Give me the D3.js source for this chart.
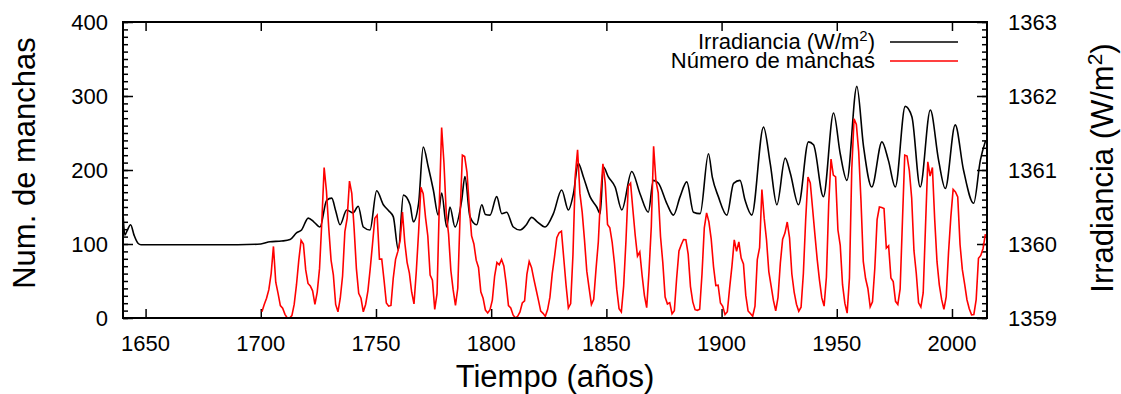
<!DOCTYPE html>
<html lang="es">
<meta charset="utf-8">
<script src="https://cdn.jsdelivr.net/npm/d3@7/dist/d3.min.js"></script>
<style>
  body { margin: 0; background: #fff; }
  svg text { font-family: "Liberation Sans", Arial, sans-serif; fill: #000; }
</style>
<body>
<script>
// sunspot number (yearly mean), 1700 - 2014
var spotStart = 1700;
var spots = [
  8.3,18.3,26.7,38.3,60.0,96.7,48.3,33.3,16.7,13.3,
  5.0,0.0,0.0,3.3,18.3,45.0,78.3,105.0,100.0,65.0,
  46.7,43.3,36.7,18.3,35.0,66.7,130.0,203.3,171.7,121.7,
  78.3,58.3,18.3,8.3,26.7,56.7,116.7,135.0,185.0,168.3,
  121.7,66.7,33.3,26.7,8.3,18.3,36.7,66.7,100.0,134.8,
  139.0,79.5,79.7,51.2,20.3,16.0,17.0,54.0,79.3,90.0,
  104.8,143.2,102.0,75.2,60.7,34.8,19.0,63.0,116.3,176.8,
  168.0,136.0,110.8,58.0,51.0,11.7,33.0,154.2,257.3,209.8,
  141.3,113.5,64.2,38.0,17.0,40.2,138.2,220.0,218.2,196.8,
  149.8,111.0,100.0,78.2,68.3,35.5,26.7,10.7,6.8,11.3,
  24.2,56.7,75.0,71.8,79.2,70.3,46.8,16.8,13.5,4.2,
  0.0,2.3,8.3,20.3,23.2,59.0,76.3,68.3,52.9,38.5,
  24.2,9.2,6.3,2.2,11.4,28.2,59.9,83.0,108.5,115.2,
  117.4,80.8,44.3,13.4,19.5,85.8,192.7,227.3,168.7,143.0,
  105.5,63.3,40.3,18.1,25.1,65.8,102.7,166.3,208.3,182.5,
  126.3,122.0,102.7,74.1,39.0,12.7,8.2,43.4,104.4,178.3,
  182.2,146.6,112.1,83.5,89.2,57.8,30.7,13.9,62.8,123.6,
  232.0,185.3,169.2,110.1,74.5,28.3,18.9,20.7,5.7,10.0,
  53.7,90.5,99.0,106.1,105.8,86.3,42.4,21.8,11.2,10.4,
  11.8,59.5,121.7,142.0,130.0,106.6,69.4,43.8,44.4,20.2,
  15.7,4.6,8.5,40.8,70.1,105.5,90.1,102.8,80.9,73.2,
  30.9,9.5,6.0,2.4,16.1,79.0,95.0,173.6,134.6,105.7,
  62.7,43.5,23.7,9.7,27.9,74.0,106.5,114.7,129.7,108.2,
  59.4,35.1,18.6,9.2,14.6,60.2,132.8,190.6,182.6,148.0,
  113.0,79.2,50.8,27.1,16.1,55.3,154.3,214.7,193.0,190.7,
  118.9,98.3,45.0,20.1,6.6,54.2,200.7,269.3,261.7,225.1,
  159.0,76.4,53.4,39.9,15.0,22.0,66.8,132.9,150.0,149.4,
  148.0,94.4,97.6,54.1,49.2,22.5,18.4,39.3,131.0,220.1,
  218.9,198.9,162.4,91.0,60.5,20.6,14.8,33.9,123.0,211.1,
  191.8,203.3,133.0,76.1,44.9,25.1,11.6,28.9,88.3,136.3,
  173.9,170.4,163.6,99.3,65.3,45.8,24.7,12.6,4.2,4.8,
  24.9,80.8,84.5,94.0,113.3
];

// total solar irradiance (W/m2)
var irrYears = [
  1640.2,1641,1642,1643.5,1645,1646.7,1648,1660,1675,1690,1700,1704,1709,1712.7,
  1715.5,1717.7,1720.6,1723,1725.7,1728.6,1730.8,1732.5,1734.4,1737.3,1740,1742.3,1744.5,1747.4,
  1750.3,1753.2,1755.5,1757.5,1759.7,1761.9,1764.8,1766.2,1768.5,1770.5,1772.7,1774.9,1777,1778.5,
  1780.7,1782.1,1784.3,1787.2,1788.6,1790.8,1793.7,1795.9,1797.5,1799.5,1802.4,1804.6,1806.7,1809.6,
  1812.5,1815,1817.6,1820,1823.4,1827,1830.6,1833.5,1835.7,1837.8,1840,1842.9,1845.8,1847.3,
  1848.7,1850.8,1853.8,1856.7,1861,1864.6,1868.2,1870.4,1872.6,1876.2,1879.1,1882,1884.9,1887.8,
  1890.7,1894.3,1896,1898.6,1902.3,1905.2,1908,1910.2,1913.1,1918.2,1921.1,1924,1927.6,1929.8,
  1933.4,1937.7,1939.9,1944.2,1948.6,1951.5,1954.4,1958.7,1961.6,1965.2,1969.6,1972.4,1975.4,1979.7,
  1982.6,1986.2,1990.6,1994.2,1997.1,2001.4,2005,2009.4,2012.3,2014.6
];
var irr = [
  1360.42,1360.12,1360.18,1360.26,1360.12,1360.01,1359.99,1359.99,1359.99,1359.99,1360.00,1360.03,1360.04,1360.06,
  1360.15,1360.19,1360.35,1360.30,1360.23,1360.59,1360.62,1360.45,1360.26,1360.46,1360.42,1360.51,1360.23,1360.19,
  1360.72,1360.53,1360.45,1360.37,1359.92,1360.66,1360.53,1360.30,1360.55,1361.31,1361.04,1360.73,1360.39,1360.69,
  1360.23,1360.50,1360.23,1360.59,1360.91,1360.37,1360.26,1360.53,1360.40,1360.39,1360.64,1360.41,1360.43,1360.23,
  1360.19,1360.25,1360.36,1360.30,1360.23,1360.41,1360.73,1360.46,1360.68,1361.09,1360.91,1360.64,1360.50,1360.41,
  1361.04,1360.91,1360.77,1360.46,1360.98,1360.68,1360.43,1360.86,1360.82,1360.55,1360.39,1360.64,1360.84,1360.43,
  1360.41,1361.22,1360.90,1360.64,1360.39,1360.82,1360.86,1360.59,1360.39,1361.58,1361.09,1360.53,1361.16,1360.96,
  1360.53,1361.38,1361.34,1360.64,1361.77,1361.22,1360.86,1362.13,1361.32,1360.77,1361.38,1361.13,1360.77,1361.86,
  1361.72,1360.77,1361.81,1361.13,1360.75,1361.61,1361.00,1360.55,1361.13,1361.40
];

var xTicks = [1650, 1700, 1750, 1800, 1850, 1900, 1950, 2000];
var yTicks = [0, 100, 200, 300, 400];
var y2Ticks = [1359, 1360, 1361, 1362, 1363];

var W = 1121, H = 394;
var margin = {top: 22, right: 134, bottom: 76, left: 123};
var width = W - margin.left - margin.right;
var height = H - margin.top - margin.bottom;

var svg = d3.select("body").append("svg")
    .attr("width", W)
    .attr("height", H);

var g = svg.append("g")
    .attr("transform", "translate(" + margin.left + "," + margin.top + ")");

var x = d3.scaleLinear().domain([1640.2, 2015.2]).range([0, width]);
var y = d3.scaleLinear().domain([0, 400]).range([height, 0]);
var y2 = d3.scaleLinear().domain([1359, 1363]).range([height, 0]);

// ticks, gnuplot style (inward)
function tickRow(axis, sel) {
    sel.call(axis);
    sel.select(".domain").remove();
    sel.selectAll("line").attr("stroke", "#000").attr("stroke-width", 1.5);
}

g.append("g").call(tickRow.bind(null, d3.axisLeft(y).ticks(40).tickSize(-5).tickFormat("")));
g.append("g").call(tickRow.bind(null, d3.axisLeft(y).tickValues(yTicks).tickSize(-10).tickFormat("")));
g.append("g").attr("transform", "translate(" + width + ",0)")
    .call(tickRow.bind(null, d3.axisRight(y2).ticks(40).tickSize(-5).tickFormat("")));
g.append("g").attr("transform", "translate(" + width + ",0)")
    .call(tickRow.bind(null, d3.axisRight(y2).tickValues(y2Ticks).tickSize(-10).tickFormat("")));
g.append("g").attr("transform", "translate(0," + height + ")")
    .call(tickRow.bind(null, d3.axisBottom(x).tickValues(xTicks).tickSize(-9).tickFormat("")));
g.append("g")
    .call(tickRow.bind(null, d3.axisTop(x).tickValues(xTicks).tickSize(-9).tickFormat("")));

// tick labels
g.selectAll(".ylab").data(yTicks).enter().append("text")
    .attr("x", -15).attr("y", function(d){ return y(d); })
    .attr("dy", "0.36em").attr("text-anchor", "end")
    .style("font-size", "22px")
    .text(function(d){ return d; });

g.selectAll(".y2lab").data(y2Ticks).enter().append("text")
    .attr("x", width + 21).attr("y", function(d){ return y2(d); })
    .attr("dy", "0.36em").attr("text-anchor", "start")
    .style("font-size", "22px")
    .text(function(d){ return d; });

g.selectAll(".xlab").data(xTicks).enter().append("text")
    .attr("x", function(d){ return x(d); }).attr("y", height + 33)
    .attr("text-anchor", "middle")
    .style("font-size", "22px")
    .text(function(d){ return d; });

// axis titles
svg.append("text")
    .attr("transform", "translate(35,163) rotate(-90)")
    .attr("text-anchor", "middle")
    .style("font-size", "31px")
    .text("Num. de manchas");

svg.append("text")
    .attr("x", 555).attr("y", 387)
    .attr("text-anchor", "middle")
    .style("font-size", "31px")
    .text("Tiempo (años)");

var t2 = svg.append("text")
    .attr("transform", "translate(1113,168) rotate(-90)")
    .attr("text-anchor", "middle")
    .style("font-size", "31px");
t2.append("tspan").text("Irradiancia (W/m");
t2.append("tspan").attr("baseline-shift", "super").style("font-size", "21px").text("2");
t2.append("tspan").text(")");

// series
var irrLine = d3.line()
    .curve(d3.curveMonotoneX)
    .x(function(d, i){ return x(irrYears[i]); })
    .y(function(d){ return y2(d); });

var spotLine = d3.line()
    .x(function(d, i){ return x(spotStart + i + 0.5); })
    .y(function(d){ return y(d); });

g.append("path")
    .attr("d", irrLine(irr))
    .attr("fill", "none")
    .attr("stroke", "#000")
    .attr("stroke-width", 1.6);

g.append("path")
    .attr("d", spotLine(spots))
    .attr("fill", "none")
    .attr("stroke", "#f00")
    .attr("stroke-width", 1.6);

// legend
var legend = [
    {name: "Irradiancia (W/m", sup: "2", color: "#000"},
    {name: "Número de manchas", sup: null, color: "#f00"}
];
var lg = svg.append("g");
legend.forEach(function(d, i){
    var yy = 42 + i * 19;
    var t = lg.append("text")
        .attr("x", 875).attr("y", yy + 7)
        .attr("text-anchor", "end")
        .style("font-size", "22px");
    t.append("tspan").text(d.name);
    if (d.sup) {
        t.append("tspan").attr("baseline-shift", "super").style("font-size", "15px").text(d.sup);
        t.append("tspan").text(")");
    }
    lg.append("line")
        .attr("x1", 890).attr("x2", 958)
        .attr("y1", yy).attr("y2", yy)
        .attr("stroke", d.color).attr("stroke-width", 1.6);
});

// frame
g.append("rect")
    .attr("width", width).attr("height", height)
    .attr("fill", "none")
    .attr("stroke", "#000")
    .attr("stroke-width", 2);
</script>
</body>
</html>
